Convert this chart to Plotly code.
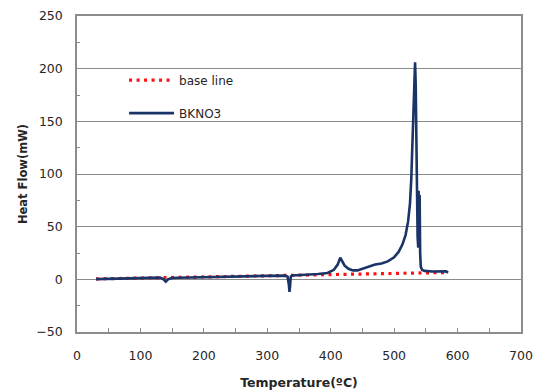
import plotly.graph_objects as go

# Baseline (red dotted)
base_t = [30, 100, 200, 300, 400, 500, 585]
base_v = [0.4, 1.3, 2.4, 3.4, 4.5, 5.6, 6.5]

# BKNO3 DSC curve
bk_t = [30, 60, 100, 125, 131, 136, 140, 144, 150, 160, 200, 250, 300, 328, 332, 334, 335, 336, 337, 339,
        345, 360, 380, 395, 405, 411, 415, 418, 422, 428, 435, 442, 450, 460, 470, 480, 490, 500, 507,
        513, 518, 522, 525, 527, 529, 531, 532, 533, 534, 535, 536, 537, 538, 538.6, 539.4, 540.2, 541,
        542, 544, 548, 560, 575, 582, 585]
bk_v = [0.2, 0.6, 1.2, 1.5, 1.6, 0.3, -2.2, 0.2, 1.3, 1.5, 2.2, 2.8, 3.3, 3.5, 2.5, -5, -12, -6, 2.5, 3.6,
        4.0, 4.4, 5.0, 6.0, 9, 14, 20.5, 17, 13, 10, 8.5, 8.5, 10, 12.5, 14, 15, 17, 21, 26,
        33, 42, 55, 72, 95, 130, 175, 200, 206, 185, 130, 75, 40, 30, 84, 32, 80, 25,
        12, 9, 8, 7.5, 7.2, 7.6, 6.3]

fig = go.Figure()
fig.add_trace(go.Scatter(
    x=base_t, y=base_v, mode="lines", name="base line", legendgroup="a",
    line=dict(color="#ff1010", width=3.2, dash="3px,4.5px"),
))
fig.add_trace(go.Scatter(
    x=bk_t, y=bk_v, mode="lines", name="BKNO3", legendgroup="b",
    line=dict(color="#1a3468", width=2.6),
))

axis_font = dict(family="DejaVu Sans", size=12.5, color="#262626")
fig.update_layout(
    width=544, height=392,
    margin=dict(l=77, r=23, t=16, b=60),
    paper_bgcolor="white", plot_bgcolor="white",
    font=dict(family="DejaVu Sans", size=12, color="#262626"),
    showlegend=True,
    legend=dict(x=0.106, y=0.745, xanchor="left", yanchor="middle",
                bgcolor="rgba(0,0,0,0)", tracegroupgap=14,
                font=dict(family="DejaVu Sans", size=12, color="#262626"),
                itemwidth=45),
    xaxis=dict(
        range=[0, 700], dtick=100, tick0=0, automargin=False,
        showgrid=False, zeroline=False,
        showline=True, linecolor="#8c8c8c", linewidth=1.5, mirror=True,
        ticks="inside", ticklen=4, tickcolor="#8c8c8c", tickwidth=1.3,
        minor=dict(dtick=50, ticks="inside", ticklen=4, tickcolor="#8c8c8c", showgrid=False),
        tickfont=axis_font, ticklabelstandoff=11,
        title=dict(text="<b>Temperature(ºC)</b>", font=dict(family="DejaVu Sans", size=12.5, color="#262626"),
                   standoff=16),
    ),
    yaxis=dict(
        range=[-50, 250], dtick=50, tick0=0, automargin=False,
        showgrid=True, gridcolor="#8c8c8c", gridwidth=1.3,
        zeroline=False,
        showline=True, linecolor="#8c8c8c", linewidth=1.5, mirror=True,
        ticks="", ticklabelstandoff=10,
        minor=dict(dtick=25, ticks="inside", ticklen=3, tickcolor="#8c8c8c", showgrid=False),
        tickfont=axis_font,
        title=dict(text="<b>Heat Flow(mW)</b>", font=dict(family="DejaVu Sans", size=11.5, color="#262626"),
                   standoff=6),
    ),
)

fig.write_html("out.html")
